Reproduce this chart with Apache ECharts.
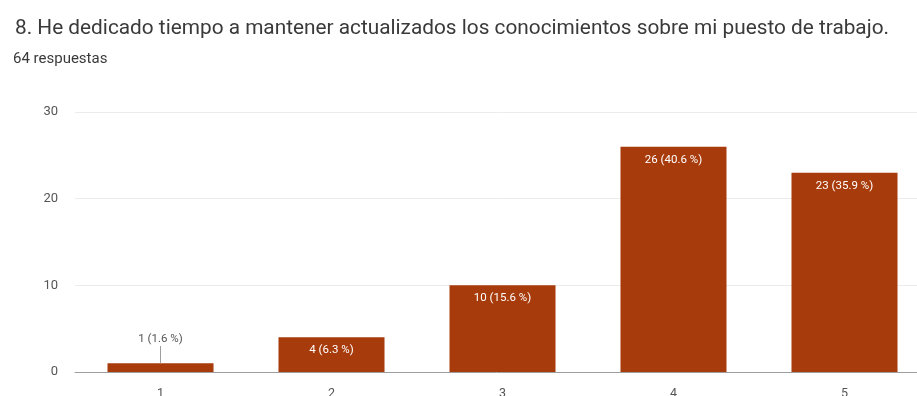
<!DOCTYPE html>
<html>
<head>
<meta charset="utf-8">
<script src="https://cdn.jsdelivr.net/npm/echarts@6/dist/echarts.min.js"></script>
<style>
  html, body { margin: 0; padding: 0; background: #fff; }
  #chart { width: 917px; height: 396px; }
</style>
</head>
<body>
<div id="chart"></div>
<script>
// Answers to question 8 (scale 1–5), 64 responses
const categories = ['1', '2', '3', '4', '5'];
const counts = [1, 4, 10, 26, 23];
const percents = [1.6, 6.3, 15.6, 40.6, 35.9];
const yTicks = [0, 10, 20, 30];

const titleText = '8. He dedicado tiempo a mantener actualizados los conocimientos sobre mi puesto de trabajo.';
const subText = '64 respuestas';

const barColor = '#a83b0b';
const font = 'Roboto, "Liberation Sans", sans-serif';

const chart = echarts.init(document.getElementById('chart'));

const barData = counts.map((v, i) => {
  const item = { value: v };
  // Small bars get their label above, joined to the bar by a short leader
  if (v < 3) {
    item.label = { position: 'top', distance: 18, color: '#555' };
  }
  return item;
});

chart.setOption({
  animation: false,
  title: [
    { text: titleText, left: 10, top: 13,
      textStyle: { fontFamily: font, fontSize: 20.8, fontWeight: 'normal', color: '#3a3a3a' } },
    { text: subText, left: 8, top: 47,
      textStyle: { fontFamily: font, fontSize: 15, fontWeight: 'normal', color: '#3a3a3a' } }
  ],
  // the plot runs a little past the right edge of the canvas
  grid: { left: 75, right: -13, top: 112, bottom: 24, containLabel: false, outerBoundsMode: 'none' },
  xAxis: {
    type: 'category',
    data: categories,
    axisLine: { lineStyle: { color: '#9e9e9e', width: 1 } },
    axisTick: { show: false },
    axisLabel: { fontFamily: font, fontSize: 12.5, color: '#555', margin: 15 }
  },
  yAxis: {
    type: 'value',
    min: yTicks[0],
    max: yTicks[yTicks.length - 1],
    interval: 10,
    axisLine: { show: false },
    axisTick: { show: false },
    axisLabel: { fontFamily: font, fontSize: 13, color: '#555', margin: 17 },
    splitLine: { lineStyle: { color: '#ececec', width: 1 } }
  },
  series: [{
    type: 'bar',
    data: barData,
    barWidth: '62%',
    itemStyle: { color: barColor },
    label: {
      show: true,
      position: 'insideTop',
      distance: 7,
      fontFamily: font,
      fontSize: 11.5,
      color: '#ffffff',
      formatter: p => p.value + ' (' + percents[p.dataIndex] + ' %)'
    },
    markLine: {
      silent: true,
      symbol: 'none',
      label: { show: false },
      lineStyle: { color: '#9e9e9e', type: 'solid', width: 1 },
      data: counts
        .map((v, i) => (v < 3 ? [{ coord: [categories[i], v] }, { coord: [categories[i], v + 2.0] }] : null))
        .filter(Boolean)
    }
  }]
});
</script>
</body>
</html>
